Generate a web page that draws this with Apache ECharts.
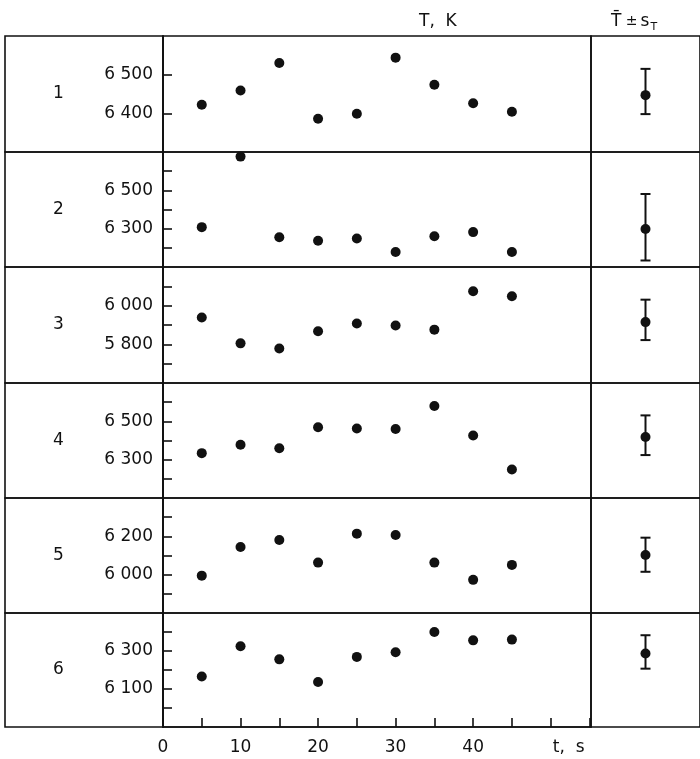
<!DOCTYPE html>
<html>
<head>
<meta charset="utf-8">
<script src="https://cdn.jsdelivr.net/npm/echarts@6/dist/echarts.min.js"></script>
<style>
html,body{margin:0;padding:0;background:#fff;}
#chart{width:700px;height:759px;}
</style>
</head>
<body>
<div id="chart"></div>
<script>
// ---- data ----
const times = [5, 10, 15, 20, 25, 30, 35, 40, 45];
const rowNames = ['1', '2', '3', '4', '5', '6'];
const run1 = [6422, 6459, 6530, 6386, 6399, 6544, 6474, 6426, 6404];
const run2 = [6308, 6676, 6255, 6237, 6249, 6178, 6260, 6282, 6178];
const run3 = [5939, 5805, 5778, 5868, 5908, 5897, 5876, 6075, 6049];
const run4 = [6334, 6378, 6360, 6469, 6463, 6460, 6580, 6426, 6249];
const run5 = [5995, 6144, 6181, 6063, 6214, 6207, 6063, 5973, 6051];
const run6 = [6166, 6325, 6256, 6137, 6269, 6293, 6400, 6356, 6360];
const meanT = [6447, 6298, 5915, 6418, 6103, 6287];
const lowT  = [6398, 6134, 5822, 6324, 6015, 6207];
const highT = [6515, 6481, 6031, 6531, 6193, 6383];
const yMin = [6300, 6100, 5600, 6100, 5800, 5900];
const yMax = [6600, 6700, 6200, 6700, 6400, 6500];
const yLabelStep = [100, 200, 200, 200, 200, 200];
const xLabelValues = [0, 10, 20, 30, 40];
const xNameValue = 50;
const xAxisName = 't,  s';
const headerLeft = 'T,  K';
const meanCategory = ['T\u0304'];

// ---- layout ----
const runs = [run1, run2, run3, run4, run5, run6];
const rowTops = [36, 152, 267, 383, 498, 613];
const rowBottom = 727;
const colLeft = 5, colMid = 163, colRight = 591;
const ink = '#111';
const font = 'DejaVu Sans';

const grids = [], xAxes = [], yAxes = [], series = [];
function fmtThousands(v) {
  const s = String(Math.round(v));
  return s.length > 3 ? s.slice(0, s.length - 3) + ' ' + s.slice(-3) : s;
}

rowNames.forEach((name, i) => {
  const top = rowTops[i];
  const h = (i < 5 ? rowTops[i + 1] : rowBottom) - top;
  const border = {show: true, borderColor: ink, borderWidth: 1.6, backgroundColor: 'transparent'};
  grids.push(Object.assign({left: colLeft, top: top, width: colMid - colLeft, height: h}, border));
  grids.push(Object.assign({left: colMid, top: top, width: colRight - colMid, height: h}, border));
  grids.push(Object.assign({left: colRight, top: top, width: 118, height: h}, border));
  const gL = i * 3, gM = i * 3 + 1, gR = i * 3 + 2;

  // left column axes (row number)
  xAxes.push({gridIndex: gL, type: 'value', show: false, min: 0, max: 1});
  yAxes.push({gridIndex: gL, type: 'category', data: [name],
    axisLine: {show: false}, axisTick: {show: false}, splitLine: {show: false},
    axisLabel: {show: true, inside: true, margin: 48, color: ink, fontFamily: font, fontSize: 17}});

  // main axes
  const isLast = i === rowNames.length - 1;
  xAxes.push({gridIndex: gM, type: 'value', min: 0, max: 55.2, interval: 5,
    show: isLast,
    axisLine: {show: true, lineStyle: {color: ink, width: 1.6}},
    axisTick: {show: true, inside: true, length: 9, lineStyle: {color: ink, width: 1.6}},
    splitLine: {show: false},
    axisLabel: {show: true, margin: 12, color: ink, fontFamily: font, fontSize: 17,
      showMinLabel: true, showMaxLabel: false,
      formatter: v => v === xNameValue ? '{n|' + xAxisName + '}' :
        (xLabelValues.indexOf(v) >= 0 ? String(v) : ''),
      rich: {n: {fontFamily: font, fontSize: 17, color: ink, padding: [0, 0, 0, 36]}}}
  });
  const mn = yMin[i], step = yLabelStep[i];
  yAxes.push({gridIndex: gM, type: 'value', min: mn, max: yMax[i], interval: 100,
    axisLine: {show: true, lineStyle: {color: ink, width: 1.6}},
    axisTick: {show: true, inside: true, length: 9, lineStyle: {color: ink, width: 1.6}},
    splitLine: {show: false},
    axisLabel: {show: true, margin: 10, color: ink, fontFamily: font, fontSize: 17,
      showMinLabel: false, showMaxLabel: false,
      formatter: v => ((v - mn) % step === 0 && v !== mn && v !== yMax[i]) ? fmtThousands(v) : ''}
  });

  // mean axes
  xAxes.push({gridIndex: gR, type: 'category', data: meanCategory, show: false});
  yAxes.push({gridIndex: gR, type: 'value', min: mn, max: yMax[i], show: false, splitLine: {show: false}});

  series.push({type: 'scatter', xAxisIndex: gM, yAxisIndex: gM,
    data: times.map((t, k) => [t, runs[i][k]]),
    symbol: 'circle', symbolSize: 10, itemStyle: {color: ink, opacity: 1}, silent: true});

  series.push({type: 'custom', xAxisIndex: gR, yAxisIndex: gR,
    data: [[0, lowT[i], highT[i]]],
    encode: {x: 0, y: [1, 2]},
    renderItem: (params, api) => {
      const lo = api.coord([api.value(0), api.value(1)]);
      const hi = api.coord([api.value(0), api.value(2)]);
      const w = 5;
      const st = {stroke: ink, lineWidth: 2};
      return {type: 'group', children: [
        {type: 'line', shape: {x1: lo[0], y1: lo[1], x2: hi[0], y2: hi[1]}, style: st},
        {type: 'line', shape: {x1: lo[0] - w, y1: lo[1], x2: lo[0] + w, y2: lo[1]}, style: st},
        {type: 'line', shape: {x1: hi[0] - w, y1: hi[1], x2: hi[0] + w, y2: hi[1]}, style: st}
      ]};
    }, silent: true});
  series.push({type: 'scatter', xAxisIndex: gR, yAxisIndex: gR,
    data: [[0, meanT[i]]], symbol: 'circle', symbolSize: 10,
    itemStyle: {color: ink, opacity: 1}, silent: true, z: 5});
});

const chart = echarts.init(document.getElementById('chart'), null, {renderer: 'canvas'});
chart.setOption({
  animation: false,
  backgroundColor: '#fff',
  title: [
    {text: headerLeft, left: 414, top: 8,
      textStyle: {color: ink, fontFamily: font, fontSize: 17, fontWeight: 'normal'}},
    {text: '{t|' + meanCategory[0] + '}{pm| \u00b1}{s|s}{sub|T}', left: 606, top: 5,
      textStyle: {color: ink, fontFamily: font, fontWeight: 'normal',
        rich: {
          t: {fontSize: 17, fontFamily: font, color: ink},
          pm: {fontSize: 14, fontFamily: font, color: ink, padding: [0, 3, 0, 0]},
          s: {fontSize: 17, fontFamily: font, color: ink},
          sub: {fontSize: 11, fontFamily: font, color: ink, padding: [12, 0, 0, 1]}
        }}}
  ],
  grid: grids,
  xAxis: xAxes,
  yAxis: yAxes,
  series: series
});
</script>
</body>
</html>
